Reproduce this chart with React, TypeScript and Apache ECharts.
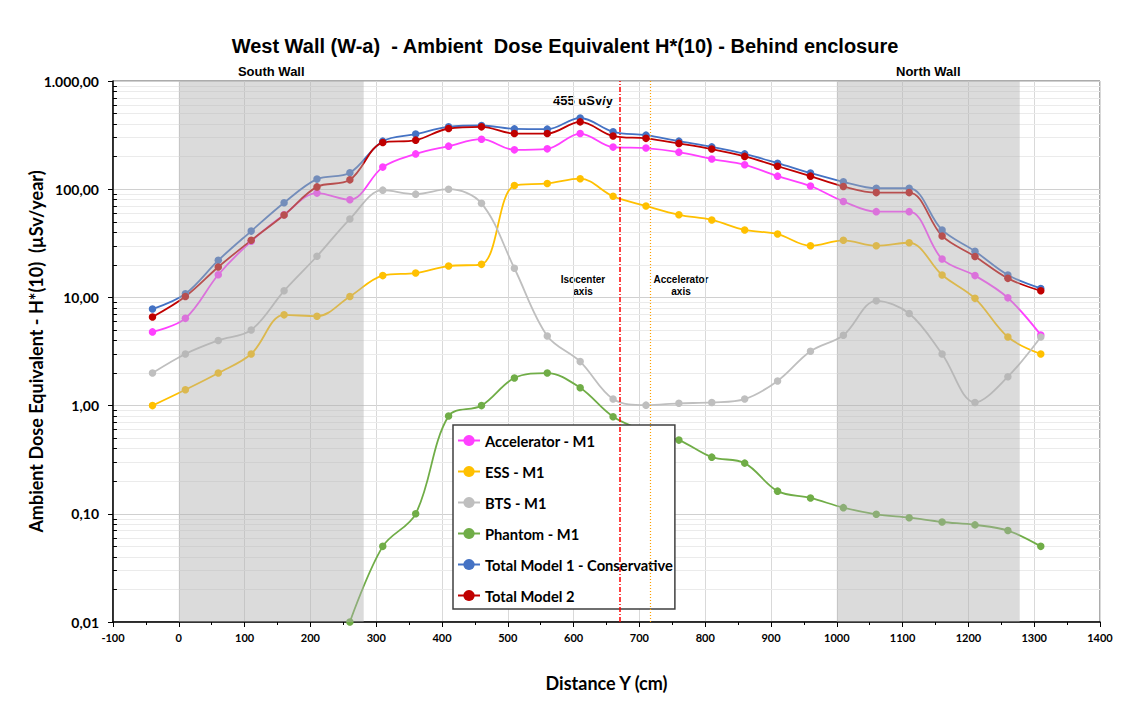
import React, { useEffect, useRef } from "react";
import * as echarts from "echarts";

const distances = [-40, 10, 60, 110, 160, 210, 260, 310, 360, 410, 460, 510, 560, 610, 660, 710, 760, 810, 860, 910, 960, 1010, 1060, 1110, 1160, 1210, 1260, 1310];
const accelerator = [4.8, 6.4, 16.2, 33, 58, 92, 80, 160, 212, 250, 290, 231, 236, 327, 245, 240, 220, 190, 168, 132, 107, 77, 62, 62, 22.6, 15.9, 9.9, 4.5];
const ess = [1.0, 1.4, 2.0, 3.0, 6.9, 6.7, 10.2, 15.9, 16.8, 19.5, 20.2, 108, 113, 125, 86, 70, 58, 52, 42, 38.5, 30, 33.7, 30, 32, 16.1, 9.8, 4.3, 3.0];
const bts = [2.0, 3.0, 4.0, 5.0, 11.5, 24, 53, 98, 90, 100, 74, 18.6, 4.4, 2.55, 1.15, 1.01, 1.05, 1.07, 1.15, 1.69, 3.18, 4.47, 9.3, 7.1, 3.0, 1.07, 1.85, 4.3];
const phantom = [null, null, null, null, null, null, 0.01, 0.05, 0.1, 0.8, 1.0, 1.8, 2.0, 1.46, 0.79, 0.58, 0.48, 0.334, 0.294, 0.162, 0.14, 0.114, 0.099, 0.092, 0.084, 0.079, 0.07, 0.05];
const total1 = [7.8, 10.8, 22, 41, 75, 124, 142, 278, 323, 377, 388, 361, 359, 455, 339, 316, 278, 246, 212, 174, 141, 117, 102, 102, 42, 26.7, 16.1, 12.1];
const total2 = [6.6, 10.2, 19.1, 33.7, 57.7, 105, 122, 270, 284, 364, 377, 327, 327, 419, 310, 295, 265, 235, 201, 163, 132, 106, 93, 93, 37, 23.9, 15, 11.5];

const seriesNames = ["Accelerator - M1", "ESS - M1", "BTS - M1", "Phantom - M1", "Total Model 1 - Conservative", "Total Model 2"];
const seriesColors = ["#ff40ff", "#ffc000", "#bfbfbf", "#70ad47", "#4472c4", "#c00000"];
const seriesValues = [accelerator, ess, bts, phantom, total1, total2];

const walls = [
  { name: "South Wall", from: 0, to: 281 },
  { name: "North Wall", from: 1000, to: 1278 },
];
const isocenterAxis = 670;
const acceleratorAxis = 717;
const decades = [0.01, 0.1, 1, 10, 100];
const minorMultipliers = [2, 3, 4, 5, 6, 7, 8, 9];

const yLabel = (v: number) => {
  const map: Record<string, string> = {
    "0.01": "0,01",
    "0.1": "0,10",
    "1": "1,00",
    "10": "10,00",
    "100": "100,00",
    "1000": "1.000,00",
  };
  const key = String(Number(v.toPrecision(3)));
  return map[key] ?? "";
};

export default function App() {
  const ref = useRef<HTMLDivElement>(null);
  useEffect(() => {
    if (!ref.current) return;
    const chart = echarts.init(ref.current, null, { renderer: "svg" });
    const minorValues: number[] = [];
    decades.forEach((d) => minorMultipliers.forEach((m) => minorValues.push(Number((d * m).toPrecision(3)))));
    const labelFont = "Lato";

    const dataSeries = seriesNames.map((name, i) => ({
      name,
      type: "line",
      smooth: 0.35,
      symbol: "circle",
      symbolSize: 7.5,
      z: 2,
      connectNulls: false,
      color: seriesColors[i],
      lineStyle: { width: 1.8, color: seriesColors[i] },
      itemStyle: { color: seriesColors[i] },
      data: distances.map((x, j) => [x, seriesValues[i][j]]),
    }));

    const vLine = (name: string, x: number, color: string, width: number, type: any) => ({
      name,
      type: "line",
      data: [],
      z: 5,
      silent: true,
      color,
      markLine: {
        z: 5,
        silent: true,
        symbol: "none",
        animation: false,
        label: { show: false },
        lineStyle: { color, width, type, opacity: 1 },
        data: [{ xAxis: x }],
      },
    });

    const option: any = {
      animation: false,
      backgroundColor: "#fff",
      title: {
        text: "West Wall (W-a)  - Ambient  Dose Equivalent H*(10) - Behind enclosure",
        left: "center",
        top: 31,
        textStyle: { fontFamily: "Liberation Sans", fontSize: 20, fontWeight: "bold", color: "#000" },
      },
      legend: {
        data: seriesNames,
        orient: "vertical",
        left: 453,
        top: 425,
        backgroundColor: "#fff",
        borderColor: "#404040",
        borderWidth: 1.5,
        borderRadius: 0,
        padding: [8, 2, 6, 4],
        itemGap: 16,
        itemWidth: 22,
        itemHeight: 14,
        textStyle: { fontFamily: labelFont, fontSize: 14.7, fontWeight: "bold", color: "#000", lineHeight: 14 },
      },
      grid: {
        left: 113,
        right: 30,
        top: 81,
        bottom: 96,
        show: true,
        borderColor: "#595959",
        borderWidth: 1,
      },
      xAxis: {
        type: "value",
        min: -100,
        max: 1400,
        interval: 100,
        name: "Distance Y (cm)",
        nameLocation: "middle",
        nameGap: 52,
        nameTextStyle: { fontFamily: labelFont, fontSize: 18, fontWeight: "bold", color: "#000" },
        axisLine: { show: true, onZero: false, lineStyle: { color: "#000", width: 1.5 } },
        axisTick: { show: true, length: 5, lineStyle: { color: "#000" } },
        minorTick: { show: true, splitNumber: 2, length: 3, lineStyle: { color: "#000" } },
        axisLabel: { fontFamily: labelFont, fontSize: 11, fontWeight: "bold", color: "#000", margin: 10, formatter: (v: number) => String(v) },
        splitLine: { show: true, lineStyle: { color: "#d9d9d9", width: 1 } },
      },
      yAxis: {
        type: "log",
        logBase: 10,
        min: 0.01,
        max: 1000,
        name: "Ambient Dose Equivalent - H*(10)  (µSv/year)",
        nameLocation: "middle",
        nameGap: 68,
        nameMoveOverlap: false,
        nameTextStyle: { fontFamily: labelFont, fontSize: 18, fontWeight: "bold", color: "#000" },
        axisLine: { show: true, onZero: false, lineStyle: { color: "#000", width: 1.5 } },
        axisTick: { show: true, length: 5, lineStyle: { color: "#000" } },
        axisLabel: { fontFamily: labelFont, fontSize: 14, fontWeight: "bold", color: "#000", formatter: yLabel, margin: 14 },
        splitLine: { show: true, lineStyle: { color: "#d0d0d0", width: 1 } },
      },
      series: [
        {
          name: "minorGrid",
          type: "line",
          data: [],
          z: 1,
          silent: true,
          markLine: {
            z: 1,
            silent: true,
            symbol: "none",
            animation: false,
            label: { show: false },
            lineStyle: { color: "#ebebeb", type: "solid", width: 1 },
            data: minorValues.map((v) => ({ yAxis: v })),
          },
        },
        {
          name: "minorTicks",
          type: "line",
          data: [],
          z: 6,
          silent: true,
          markLine: {
            z: 6,
            silent: true,
            symbol: "none",
            animation: false,
            label: { show: false },
            lineStyle: { color: "#000", type: "solid", width: 1 },
            data: minorValues.map((v) => [{ coord: [-100, v] }, { coord: [-94, v] }]),
          },
        },
        ...dataSeries,
        {
          name: "walls",
          type: "line",
          data: [],
          z: 3,
          silent: true,
          markArea: {
            z: 3,
            silent: true,
            itemStyle: { color: "rgba(175,175,175,0.45)" },
            label: {
              show: true,
              position: "top",
              distance: 3,
              fontFamily: "Liberation Sans",
              fontSize: 13,
              fontWeight: "bold",
              color: "#000",
            },
            data: walls.map((w) => [
              { name: w.name, xAxis: w.from, yAxis: 1000 },
              { xAxis: w.to, yAxis: 0.01 },
            ]),
          },
        },
        vLine("isocenterLine", isocenterAxis, "#ff0000", 1.5, [5, 2, 1, 2]),
        vLine("acceleratorLine", acceleratorAxis, "#ffa000", 1.2, [1, 2]),
      ],
      graphic: [
        {
          type: "text",
          x: 583,
          y: 94,
          style: { text: "455 uSv/y", align: "center", fontFamily: "Liberation Sans", fontSize: 13, fontWeight: "bold", fill: "#000" },
        },
        {
          type: "text",
          x: 583,
          y: 273,
          style: { text: "Isocenter\naxis", align: "center", fontFamily: "Liberation Sans", fontSize: 10, fontWeight: "bold", fill: "#000", lineHeight: 12 },
        },
        {
          type: "text",
          x: 681,
          y: 273,
          style: { text: "Accelerator\naxis", align: "center", fontFamily: "Liberation Sans", fontSize: 10, fontWeight: "bold", fill: "#000", lineHeight: 12 },
        },
      ],
    };
    chart.setOption(option);
    return () => chart.dispose();
  }, []);
  return <div ref={ref} style={{ position: "fixed", left: 0, top: 0, width: 1130, height: 718 }} />;
}
